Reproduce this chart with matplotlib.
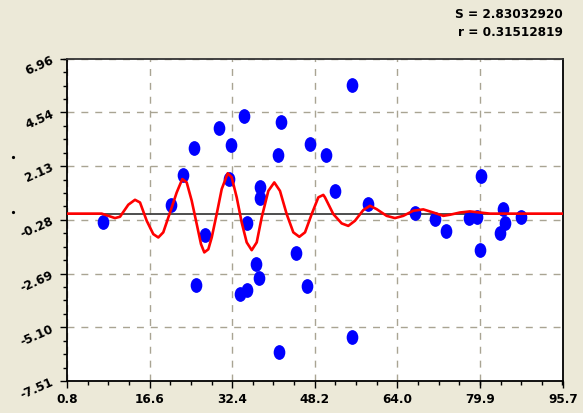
import numpy as np
import matplotlib
matplotlib.use("Agg")
import matplotlib.pyplot as plt
from matplotlib.path import Path
from matplotlib.ticker import FixedLocator, AutoMinorLocator
from matplotlib.lines import Line2D

# scatter points
px = [7.63, 20.7, 22.94, 25.10, 25.48, 27.15, 29.94, 32.12, 31.80, 34.72,
      35.30, 33.90, 35.30, 37.02, 37.54, 37.73, 37.73, 41.11, 41.74, 41.36,
      44.61, 46.81, 47.24, 50.41, 55.27, 55.27, 52.08, 58.33, 67.33, 71.15,
      73.31, 77.77, 79.30, 79.95, 79.76, 84.16, 84.60, 83.59, 87.61]
py = [-0.38, 0.40, 1.75, 2.96, -3.20, -0.98, 3.86, 3.06, 1.57, 4.37,
      -0.44, -3.61, -3.42, -2.27, -2.90, 1.18, 0.70, 2.65, 4.10, -6.22,
      -1.76, -3.25, 3.13, 2.63, 5.79, -5.52, 1.03, 0.41, 0.05, -0.23,
      -0.77, -0.20, -0.14, 1.70, -1.61, 0.19, -0.44, -0.87, -0.13]

# red curve
cx = [0.8, 6.16, 7.44, 8.07, 9.98, 10.94, 12.53, 13.81, 14.77, 16.05,
      17.31, 18.27, 19.22, 20.51, 21.79, 22.86, 23.70, 24.66, 25.62, 26.44,
      27.07, 27.84, 28.49, 29.44, 30.40, 31.55, 32.31, 33.27, 34.23, 35.18,
      36.14, 37.10, 38.05, 39.32, 40.46, 41.55, 42.83, 44.10, 45.25, 46.34,
      47.62, 48.89, 49.84, 50.16, 51.75, 53.36, 54.62, 55.90, 57.49, 58.77,
      60.05, 61.96, 63.55, 65.14, 67.06, 68.97, 70.88, 72.80, 74.08, 75.99,
      77.90, 79.82, 81.73, 83.65, 95.7]
cy = [0.0, 0.0, 0.0, -0.05, -0.20, -0.14, 0.40, 0.62, 0.50, -0.32,
      -0.92, -1.07, -0.84, 0.05, 0.95, 1.55, 1.40, 0.58, -0.47, -1.37,
      -1.74, -1.60, -1.07, -0.02, 1.10, 1.81, 1.63, 0.73, -0.40, -1.29,
      -1.64, -1.29, -0.17, 1.02, 1.40, 1.02, -0.02, -0.84, -1.04, -0.84,
      -0.02, 0.73, 0.84, 0.73, -0.02, -0.44, -0.55, -0.32, 0.16, 0.35,
      0.20, -0.10, -0.20, -0.10, 0.13, 0.19, 0.05, -0.10, -0.05, 0.05,
      0.10, 0.05, 0.0, 0.0, 0.0]

xticks = [0.8, 16.6, 32.4, 48.2, 64.0, 79.9, 95.7]
yticks = [-7.51, -5.10, -2.69, -0.28, 2.13, 4.54, 6.96]
S_val = "2.83032920"
r_val = "0.31512819"

bg = "#ECE9D8"
fig = plt.figure(figsize=(5.83, 4.14), dpi=100, facecolor=bg)
ax = fig.add_axes([67/583, 1-382/414, 496/583, 322.5/414])
ax.set_facecolor("white")

# tall ellipse marker
circ = Path.unit_circle()
ell = Path(circ.vertices * np.array([0.77, 1.0]), circ.codes)

ax.axhline(0, color="#404040", lw=1.3, zorder=2)
ax.plot(px, py, ls="none", marker=ell, ms=9.6, color="#0000FF", zorder=3)
ax.plot(cx, cy, color="#FF0000", lw=1.9, zorder=4,
        solid_joinstyle="round", solid_capstyle="round")

ax.set_xlim(xticks[0], xticks[-1])
ax.set_ylim(yticks[0], yticks[-1])
ax.xaxis.set_major_locator(FixedLocator(xticks))
ax.yaxis.set_major_locator(FixedLocator(yticks))
ax.xaxis.set_minor_locator(AutoMinorLocator(4))
ax.yaxis.set_minor_locator(AutoMinorLocator(4))
ax.set_xticklabels(["%.1f" % v for v in xticks], fontweight="bold", fontsize=8.7)
ax.set_yticklabels(["%.2f" % v for v in yticks], fontweight="bold", fontsize=8.7,
                   rotation=24, rotation_mode="anchor", ha="right", va="center")
ax.tick_params(which="major", length=5, width=1, direction="out", pad=3)
ax.tick_params(which="minor", length=3, width=1, direction="out")
ax.tick_params(axis="y", pad=5)

ax.grid(True, which="major", color="#A9A493", ls=(0, (5, 5)), lw=1, zorder=1)
for s in ax.spines.values():
    s.set_color("black")
    s.set_linewidth(1.3)
ax.spines["top"].set_color("#333333")

fig.text(563/583, 1-14/414, "S = " + S_val, ha="right", va="center",
         fontweight="bold", fontsize=8.7)
fig.text(563/583, 1-32/414, "r = " + r_val, ha="right", va="center",
         fontweight="bold", fontsize=8.7)

# stray dots left of the axis
for yy in [158, 213]:
    fig.add_artist(Line2D([13/583], [1-yy/414], marker="o", ms=1.3,
                          color="black", transform=fig.transFigure))

fig.savefig("out.png", dpi=100, facecolor=bg)
